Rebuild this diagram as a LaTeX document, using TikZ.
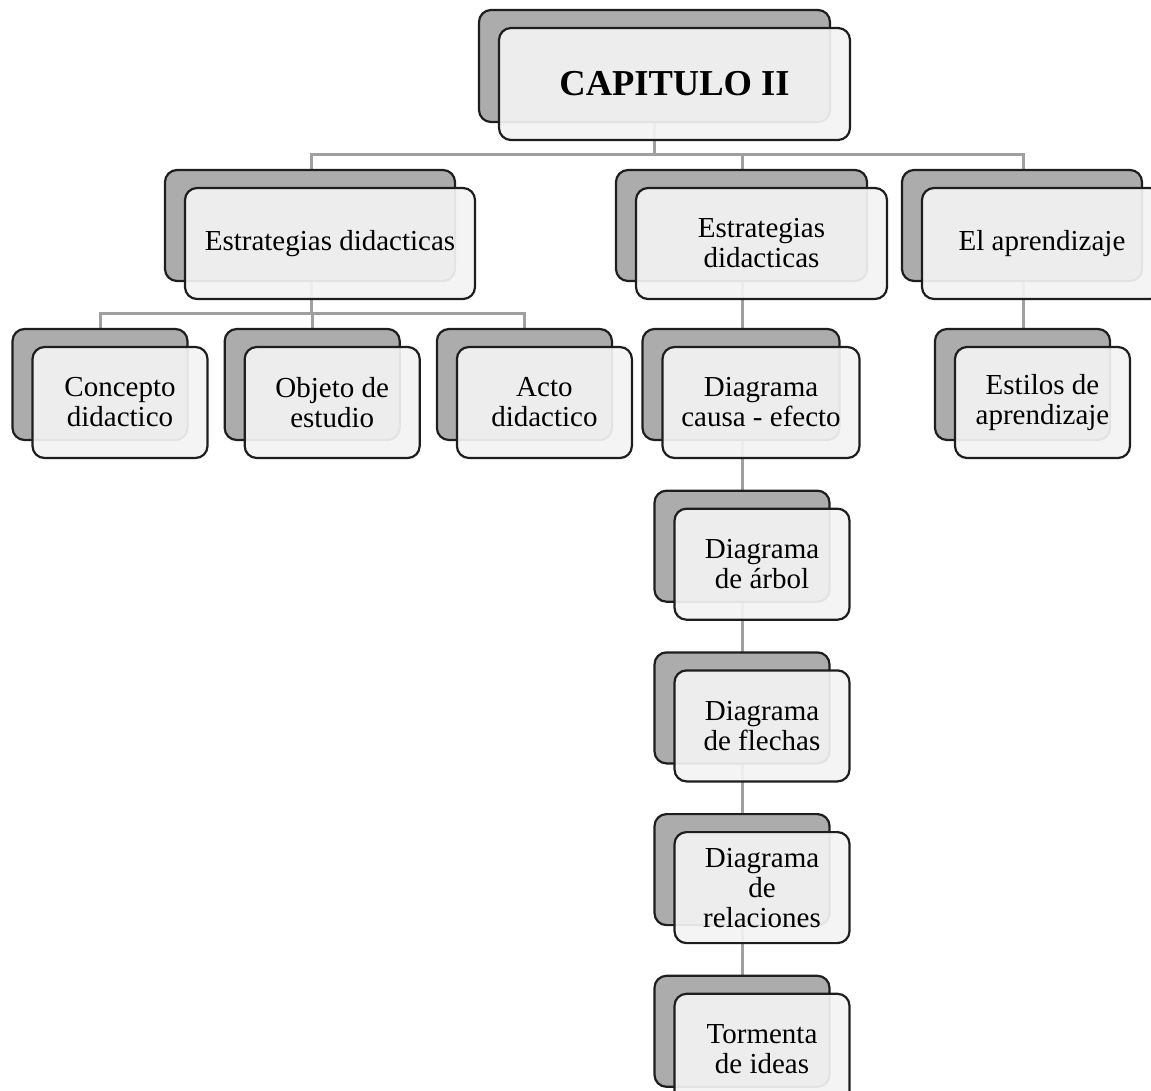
\documentclass[tikz,border=0pt]{standalone}
\usepackage{fontspec}
\setmainfont{Liberation Serif}
\usepackage{tikz}
\usetikzlibrary{shadows,backgrounds,positioning}
\definecolor{linkgray}{RGB}{160,160,160}
\definecolor{backgray}{RGB}{172,172,172}
\definecolor{frontgray}{RGB}{243,243,243}
\definecolor{edgeblack}{RGB}{30,30,30}

\begin{document}
\begin{tikzpicture}
          [x=1pt, y=-1pt,
           card/.style={draw=edgeblack, line width=2.2pt, rounded corners=12pt,
             fill=frontgray, fill opacity=0.93, text opacity=1, align=center,
             inner sep=2pt, minimum height=111pt,
             font=\fontsize{29}{30}\selectfont,
             copy shadow={shadow xshift=-20pt, shadow yshift=18pt, opacity=1,
               draw=edgeblack, fill=backgray, line width=2.2pt}},
           link/.style={draw=linkgray, line width=3pt}]
          \useasboundingbox (0,0) rectangle (1151,1090);

          \node (cap) [card, minimum width=351pt, minimum height=112pt,
                       font=\fontsize{36.5}{40}\selectfont\bfseries] at (674.5,84) {CAPITULO II};

          \node (est) [card, minimum width=290pt] at (330,243.5) {Estrategias didacticas};
          \node (med) [card, minimum width=251pt] at (761.5,243.5) {Estrategias\\didacticas};
          \node (apr) [card, minimum width=240pt] at (1042,243.5) {El aprendizaje};

          \node (con) [card, minimum width=175pt] at (120,402.5) {Concepto\\didactico};
          \node (obj) [card, minimum width=175pt, right = 35pt of con] {Objeto de\\estudio};
          \node (act) [card, minimum width=175pt, right = 35pt of obj] {Acto\\didactico};

          \node (cau) [card, minimum width=197pt] at (761,402.5) {Diagrama\\causa - efecto};
          \node (arb) [card, minimum width=175pt, below = 48.5pt of cau, xshift=1pt] {Diagrama\\de árbol};
          \node (fle) [card, minimum width=175pt, below = 48.5pt of arb] {Diagrama\\de flechas};
          \node (rel) [card, minimum width=175pt, below = 48.5pt of fle] {Diagrama\\de\\relaciones};
          \node (tor) [card, minimum width=175pt, below = 48.5pt of rel] {Tormenta\\de ideas};

          \node (sty) [card, minimum width=175pt] at (1042.5,402.5) {Estilos de\\aprendizaje};

          \begin{pgfonlayer}{background}
            \draw[link] ([xshift=-20pt]cap.center) -- ++(0,70) -| ([xshift=-19pt]est.center);
            \draw[link] ([xshift=-20pt]cap.center) -- ++(0,70) -| ([xshift=-19pt]med.center);
            \draw[link] ([xshift=-20pt]cap.center) -- ++(0,70) -| ([xshift=-19pt]apr.center);

            \draw[link] ([xshift=-19pt]est.center) -- ++(0,70) -| ([xshift=-20pt]con.center);
            \draw[link] ([xshift=-19pt]est.center) -- ++(0,70) -| ([xshift=-20pt]obj.center);
            \draw[link] ([xshift=-19pt]est.center) -- ++(0,70) -| ([xshift=-20pt]act.center);

            \draw[link] ([xshift=-19pt]med.center) -- ([xshift=-19pt]med.center |- cau.center);
            \draw[link] ([xshift=-19pt]med.center |- cau.center) -- ([xshift=-19pt]med.center |- arb.center);
            \draw[link] ([xshift=-19pt]med.center |- arb.center) -- ([xshift=-19pt]med.center |- fle.center);
            \draw[link] ([xshift=-19pt]med.center |- fle.center) -- ([xshift=-19pt]med.center |- rel.center);
            \draw[link] ([xshift=-19pt]med.center |- rel.center) -- ([xshift=-19pt]med.center |- tor.center);

            \draw[link] ([xshift=-19pt]apr.center) -- ([xshift=-19pt]apr.center |- sty.center);
          \end{pgfonlayer}

        \end{tikzpicture}
\end{document}
